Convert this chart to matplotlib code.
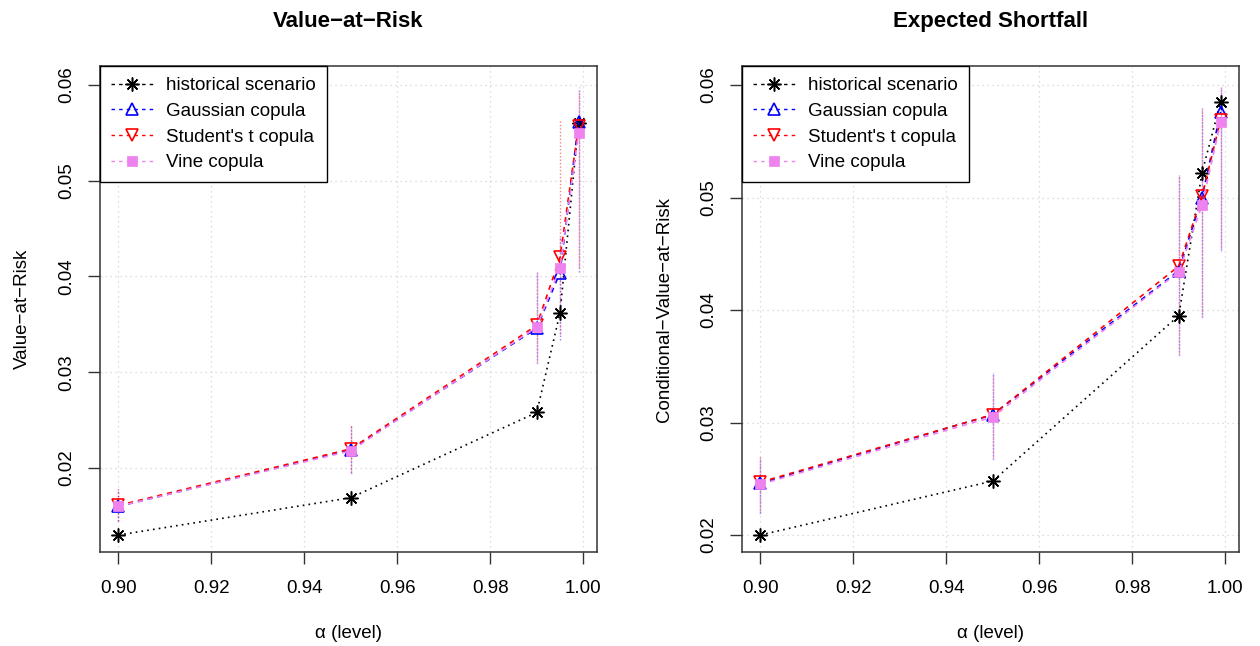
import matplotlib
matplotlib.use("Agg")
import matplotlib.pyplot as plt
from matplotlib.lines import Line2D
import numpy as np

plt.rcParams['font.family'] = ['Liberation Sans', 'DejaVu Sans']

alpha = [0.90, 0.95, 0.99, 0.995, 0.999]
labels = ["historical scenario", "Gaussian copula", "Student's t copula", "Vine copula"]

# Value-at-Risk
var_hist = [0.0130, 0.0169, 0.0258, 0.0362, 0.0560]
var_gauss = [0.0160, 0.0219, 0.0346, 0.0404, 0.0561]
var_t = [0.0161, 0.0220, 0.0349, 0.0420, 0.0557]
var_vine = [0.0160, 0.0218, 0.0347, 0.0409, 0.0550]
var_gauss_lo = [0.0145, 0.0195, 0.0310, 0.0334, 0.0405]
var_gauss_hi = [0.0178, 0.0245, 0.0405, 0.0440, 0.0597]
var_t_lo = [0.0145, 0.0196, 0.0312, 0.0340, 0.0410]
var_t_hi = [0.0178, 0.0246, 0.0405, 0.0563, 0.0595]
var_vine_lo = [0.0144, 0.0194, 0.0309, 0.0340, 0.0405]
var_vine_hi = [0.0177, 0.0244, 0.0404, 0.0445, 0.0600]

# Expected Shortfall
es_hist = [0.0200, 0.0248, 0.0395, 0.0522, 0.0585]
es_gauss = [0.0246, 0.0307, 0.0435, 0.0500, 0.0576]
es_t = [0.0247, 0.0307, 0.0439, 0.0501, 0.0569]
es_vine = [0.0245, 0.0305, 0.0434, 0.0493, 0.0567]
es_gauss_lo = [0.0220, 0.0268, 0.0360, 0.0394, 0.0453]
es_gauss_hi = [0.0269, 0.0344, 0.0520, 0.0580, 0.0598]
es_t_lo = [0.0221, 0.0269, 0.0362, 0.0396, 0.0455]
es_t_hi = [0.0270, 0.0344, 0.0520, 0.0580, 0.0598]
es_vine_lo = [0.0219, 0.0267, 0.0359, 0.0393, 0.0452]
es_vine_hi = [0.0268, 0.0343, 0.0518, 0.0575, 0.0600]

xticks = [0.90, 0.92, 0.94, 0.96, 0.98, 1.00]
yticks = [0.02, 0.03, 0.04, 0.05, 0.06]

colors = ['black', 'blue', 'red', 'violet']
markers = [(8, 2, 0), '^', 'v', 's']

fig = plt.figure(figsize=(12.6, 6.46), dpi=100)
ax1 = fig.add_axes([100/1260, 1-552/646, 497/1260, 486/646])
ax2 = fig.add_axes([742/1260, 1-552/646, 497/1260, 486/646])

def marker_kw(k):
    c = colors[k]
    if k == 0:
        return dict(marker=markers[k], markersize=10, markeredgewidth=1.1,
                    markeredgecolor=c, markerfacecolor=c)
    if k == 3:
        return dict(marker=markers[k], markersize=7, markeredgewidth=0.5,
                    markeredgecolor=c, markerfacecolor=c)
    return dict(marker=markers[k], markersize=8, markeredgewidth=1.2,
                markeredgecolor=c, markerfacecolor='none')

def panel(ax, title, ylabel, series, lows, highs, ylim):
    ax.set_xlim(0.89604, 1.00296)
    ax.set_ylim(*ylim)
    for xv in xticks:
        ax.axvline(xv, color='lightgray', linestyle=(0, (1, 3)), linewidth=0.9, zorder=0)
    for yv in yticks:
        ax.axhline(yv, color='lightgray', linestyle=(0, (1, 3)), linewidth=0.9, zorder=0)
    # interval bars (copulas)
    for i in range(3):
        c = colors[i + 1]
        ax.vlines(alpha, lows[i], highs[i], colors=c, linestyles=(0, (1, 1.5)),
                  linewidth=1.0, alpha=0.5, zorder=2)
    handles = []
    for k, vals in enumerate(series):
        c = colors[k]
        dash = (0, (1, 2.5)) if k == 0 else (0, (3, 3))
        ax.plot(alpha, vals, color=c, linestyle=dash, linewidth=1.2, zorder=3 + k,
                **marker_kw(k))
        handles.append(Line2D([], [], color=c, linestyle=(0, (2.5, 3)), linewidth=1.0,
                              label=labels[k], **marker_kw(k)))
    ax.set_xticks(xticks)
    ax.set_xticklabels([f"{v:.2f}" for v in xticks])
    ax.set_yticks(yticks)
    ax.set_yticklabels([f"{v:.2f}" for v in yticks], rotation=90, va='center')
    ax.tick_params(axis='both', direction='out', length=8.5, width=1, labelsize=13.5,
                   color='#333333')
    ax.tick_params(axis='x', pad=12)
    ax.tick_params(axis='y', pad=9)
    for s in ax.spines.values():
        s.set_linewidth(1.1)
        s.set_color('#333333')
    ax.set_title(title, fontsize=16, fontweight='bold', pad=28)
    ax.set_xlabel("α (level)", fontsize=13.5, labelpad=20)
    ax.set_ylabel(ylabel, fontsize=13.5, labelpad=20)
    leg = ax.legend(handles=handles, loc='upper left', bbox_to_anchor=(0, 1),
                    borderaxespad=0, fancybox=False, edgecolor='black', framealpha=1,
                    fontsize=13.5, handlelength=2.2, labelspacing=0.45, handletextpad=0.7,
                    borderpad=0.6)
    leg.get_frame().set_linewidth(1.0)
    leg.set_zorder(20)

panel(ax1, "Value\u2212at\u2212Risk", "Value\u2212at\u2212Risk",
      [var_hist, var_gauss, var_t, var_vine],
      [var_gauss_lo, var_t_lo, var_vine_lo],
      [var_gauss_hi, var_t_hi, var_vine_hi],
      (0.01123, 0.06198))
panel(ax2, "Expected Shortfall", "Conditional\u2212Value\u2212at\u2212Risk",
      [es_hist, es_gauss, es_t, es_vine],
      [es_gauss_lo, es_t_lo, es_vine_lo],
      [es_gauss_hi, es_t_hi, es_vine_hi],
      (0.01849, 0.06169))

fig.savefig("out.png", dpi=100)
